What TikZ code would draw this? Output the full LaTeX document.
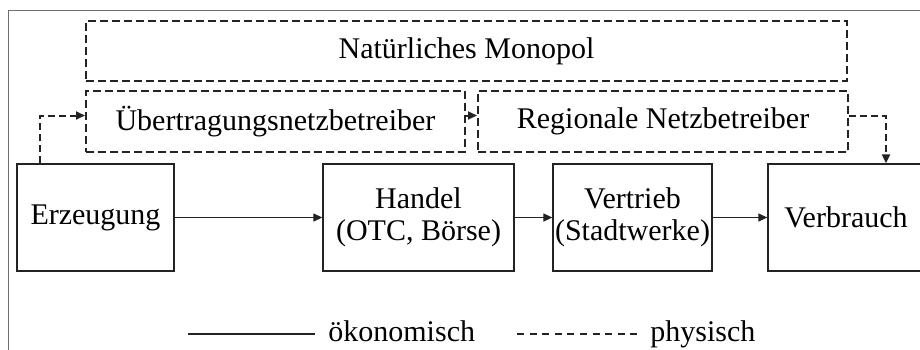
\documentclass[tikz,border=0pt]{standalone}
\usepackage{fontspec}
\setmainfont{Liberation Serif}
\usetikzlibrary{arrows.meta,positioning}
\definecolor{mkedge}{RGB}{35,35,35}
\definecolor{mkframe}{RGB}{110,110,110}
\tikzset{
  mkfont/.style={font=\fontsize{15}{16}\selectfont},
  mkbox/.style={
    draw=mkedge, line width=0.65pt, align=center, inner sep=1pt,
    minimum height=53.5pt, mkfont
  },
  netbox/.style={
    draw=mkedge, line width=1pt, dash pattern=on 4pt off 2pt,
    align=center, inner sep=1pt, minimum height=30.5pt, mkfont
  },
  arr/.style={-{Triangle[length=4.5pt,width=4pt]}, draw=mkedge, line width=0.6pt},
  darr/.style={arr, line width=1pt, dash pattern=on 3.5pt off 2pt},
  lbl/.style={mkfont, inner sep=0pt},
  every picture/.append style={line join=miter}
}

\begin{document}
\begin{tikzpicture}[x=0.5pt, y=-0.5pt]
  \clip (0,0) rectangle (920,349);
  % outer frame, cut at the page edge
  \draw[mkframe, line width=0.5pt] (8,360) -- (8,10) -- (930,10);

  % network operators (dashed)
  \node[netbox, minimum width=380.5pt, minimum height=30pt] (mono) at (466.5,51) {Natürliches Monopol};
  \node[netbox, minimum width=189.5pt] (uenb) at (275.5,121.5) {Übertragungsnetzbetreiber};
  \node[netbox, minimum width=185pt] (rnb) at (663,121.5) {Regionale Netzbetreiber};

  % market chain
  \node[mkbox, minimum width=78.5pt] (erz) at (95.5,217.5) {Erzeugung};
  \node[mkbox, minimum width=95.5pt] (handel) at (418.5,217.5) {Handel\\(OTC, Börse)};
  \node[mkbox, minimum width=78.5pt] (vertrieb) at (632.5,217.5) {Vertrieb\\(Stadtwerke)};
  \node[mkbox, minimum width=78pt] (verbr) at (846,217.5) {Verbrauch};

  \draw[arr] (erz) -- (handel);
  \draw[arr] (handel) -- (vertrieb);
  \draw[arr] (vertrieb) -- (verbr);

  \draw[darr] ([xshift=12pt]erz.north west) |- ([yshift=3pt]uenb.west);
  \draw[darr] ([yshift=3pt]uenb.east) -- ([yshift=3pt]rnb.west);
  \draw[darr] ([yshift=3pt]rnb.east) -| ([xshift=20pt]verbr.north);

  % legend
  \coordinate (oka) at (188,334);
  \coordinate (okb) at (315,334);
  \coordinate (pha) at (517,334);
  \coordinate (phb) at (640,334);
  \draw[mkedge, line width=0.6pt] (oka) -- (okb);
  \node[lbl, anchor=base west] (oek) at (328,341) {ökonomisch};
  \draw[mkedge, line width=0.6pt, dash pattern=on 3.5pt off 2.8pt] (pha) -- (phb);
  \node[lbl, anchor=base west] (phy) at (650,341) {physisch};
\end{tikzpicture}
\end{document}
